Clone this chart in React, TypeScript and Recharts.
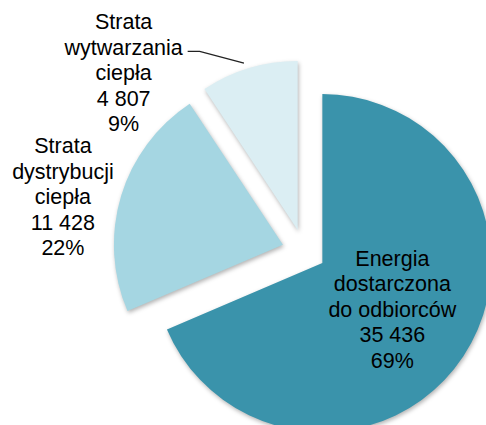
import { PieChart, Pie, Cell } from 'recharts';

const names = [
  ['Energia', 'dostarczona', 'do odbiorców'],
  ['Strata', 'dystrybucji', 'ciepła'],
  ['Strata', 'wytwarzania', 'ciepła'],
];
const values = [35436, 11428, 4807];
const colors = ['#3a93ab', '#a5d6e2', '#dbeef3'];

const total = values.reduce((a, b) => a + b, 0);
const data = values.map((v, i) => ({ name: names[i].join(' '), value: v }));

const RAD = Math.PI / 180;
const CX = 299;
const CY = 246;
const R = 169;
const EXPLODE = 22;
const FONT = 21.5;
const LINE_H = 25.5;

// mid angle of every slice (recharts degrees, going clockwise from 12 o'clock)
const midAngles = values.map((v, i) => {
  const before = values.slice(0, i).reduce((a, b) => a + b, 0);
  return 90 - (360 * (before + v / 2)) / total;
});

// each slice is pulled out along its mid angle
const centers = midAngles.map((a) => ({
  x: CX + EXPLODE * Math.cos(a * RAD),
  y: CY - EXPLODE * Math.sin(a * RAD),
}));

// label block centre, relative to the slice's own centre
const labelOffsets = [
  [75, 51],
  [-215, -43],
  [-169, -152],
];

const fmt = (n: number) => String(n).replace(/\B(?=(\d{3})+(?!\d))/g, ' ');

const renderLabel = (k: number) => (props: any) => {
  if (props.index !== k) return <g />;
  const c = centers[k];
  const lines = [...names[k], fmt(values[k]), `${Math.round((values[k] / total) * 100)}%`];
  const x = c.x + labelOffsets[k][0];
  const midY = c.y + labelOffsets[k][1];
  const firstY = midY - ((lines.length - 1) / 2) * LINE_H + FONT * 0.35;

  let leader = null;
  if (k === 2) {
    // leader line from the arc to the label
    const ax = c.x + R * Math.cos(midAngles[k] * RAD);
    const ay = c.y - R * Math.sin(midAngles[k] * RAD);
    const ly = midY - LINE_H + 4;
    leader = (
      <polyline
        points={`${ax},${ay} ${x + 76},${ly} ${x + 64},${ly}`}
        fill="none"
        stroke="#222"
        strokeWidth={1.3}
      />
    );
  }

  return (
    <g>
      {leader}
      <text
        x={x}
        y={firstY}
        textAnchor="middle"
        fontFamily="'Liberation Sans', Arial, sans-serif"
        fontSize={FONT}
        fill="#000"
      >
        {lines.map((t, i) => (
          <tspan key={i} x={x} dy={i === 0 ? 0 : LINE_H}>
            {t}
          </tspan>
        ))}
      </text>
    </g>
  );
};

export default function App() {
  return (
    <div style={{ position: 'absolute', left: 0, top: 0 }}>
      <PieChart width={486} height={425}>
        {values.map((_, k) => (
          <Pie
            key={k}
            data={data}
            dataKey="value"
            cx={centers[k].x}
            cy={centers[k].y}
            outerRadius={R}
            startAngle={90}
            endAngle={-270}
            stroke="none"
            labelLine={false}
            label={renderLabel(k)}
            isAnimationActive={false}
          >
            {data.map((_, i) => (
              <Cell
                key={i}
                fill={i === k ? colors[i] : 'none'}
                style={i === k ? { filter: 'drop-shadow(1.5px 2px 2px rgba(0,0,0,0.3))' } : undefined}
              />
            ))}
          </Pie>
        ))}
      </PieChart>
    </div>
  );
}
